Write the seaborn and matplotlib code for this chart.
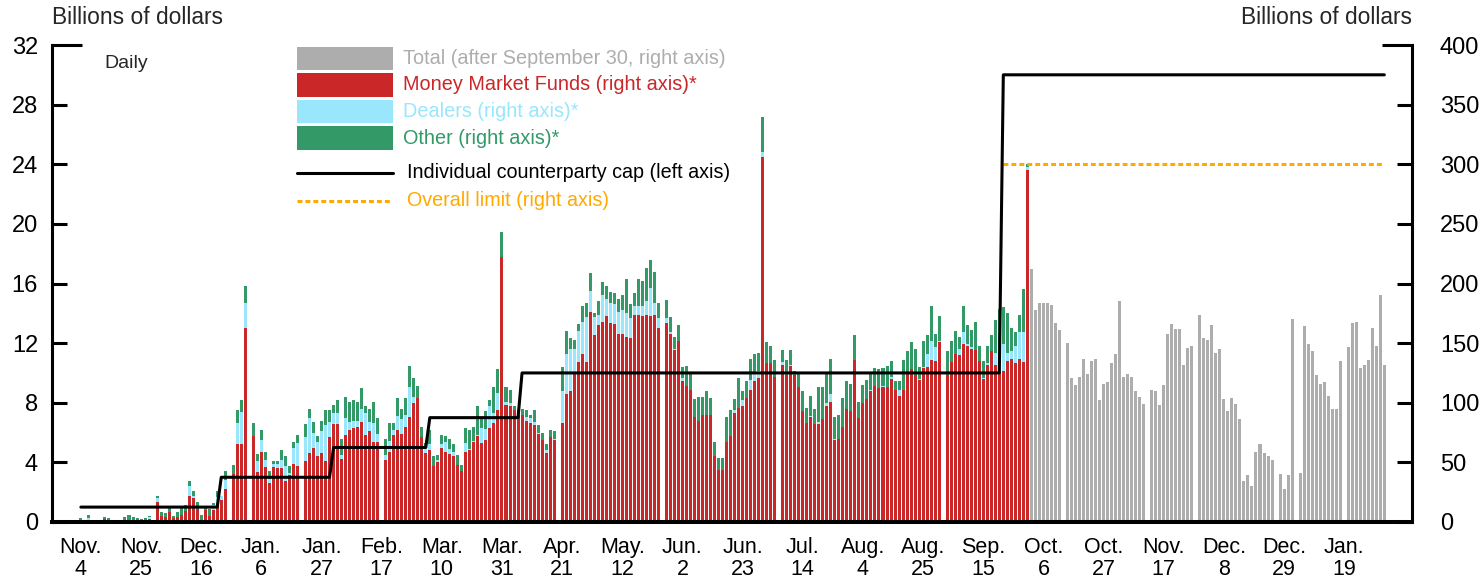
import numpy as np
import pandas as pd
import matplotlib
matplotlib.use("Agg")
import matplotlib.pyplot as plt
import seaborn as sns
from matplotlib.patches import Rectangle
from matplotlib.lines import Line2D

# weekday axis, Nov 4 2013 - Feb 2 2015 (holidays = None, shown as gaps)
days = pd.bdate_range("2013-11-04", "2015-02-02")

# billions of dollars, Nov 2013 - Sep 30 2014, one line per month
mmf = (
    [1.5, 1, 0, 0, 0, None, 2.5, 2, 0.5, 0, 0, 1, 2, 1, 1, 0.5, 0, 2.5, None, 17]
    + [5, 4.5, 8, 3, 4.5, 6, 9, 22, 20, 11, 2, 10, 5, 10, 16, 18.5, 28, None, 40, 65, 65, 163]
    + [None, 72, 42, 59, 46, 33, 46, 45, 45, 34, 39, 49, 47, None, 51, 58, 62, 55, 58, 51, 71, 82, 82]
    + [53, 73, 77, 79, 80, 84, 73, 76, 67, 67, None, 52, 59, 73, 77, 74, 80, 88, 100, 104]
    + [71, 58, 60, 47, 50, 62, 59, 57, 55, 48, 43, 59, 60, 67, 72, 66, 69, 79, 83, 94, 222]
    + [98, 97, 94, 90, 90, 85, 83, 81, 74, 69, 58, 71, 69, None, 83, 107, 110, 125, 134, 141, 134, 176]
    + [157, 165, 168, 173, 167, 166, 158, 158, 155, 154, 174, 174, 173, 174, 173, 174, 163, None, 167, 158, 144, 152]
    + [118, 114, 111, 88, 85, 90, 90, 90, 55, 44, 44, 67, 72, 91, 96, 97, 104, 111, 118, 121, 306]
    + [133, 133, 122, None, 132, 123, 131, 123, 113, 93, 83, 88, 82, 82, 86, 97, 101, 69, 70, 80, 95, 93, 136]
    + [87, 100, 103, 110, 114, 112, 113, 113, 120, 111, 106, 111, 127, 128, 123, 119, 129, 130, 136, 135, 151]
    + [None, 123, 134, 141, 140, 149, 148, 145, 144, 135, 120, 132, 143, 132, 126, 127, 135, 137, 133, 137, 134, 295]
)
dealers = (
    [0, 1, 3, 1.5, 1.5, None, 0, 0, 0.5, 0, 0, 0, 0, 0, 0, 0, 1, 1.5, None, 3]
    + [0, 0, 0, 0, 0, 0, 0, 8, 2, 0, 0, 0, 0, 4, 5, 3.5, 7.5, None, 0, 18, 27, 21]
    + [None, 0, 9, 10, 6, 3, 3, 4, 7, 13, 2, 13, 19, None, 20, 29, 13, 12, 18, 30, 13, 9, 9]
    + [3, 14, 7, 6, 5, 11, 18, 8, 16, 7, None, 4, 9, 4, 12, 12, 10, 25, 5, 0]
    + [0, 4, 5, 0, 2, 3, 8, 4, 4, 0, 0, 7, 1, 1, 1, 13, 9, 18, 8, 14, 0]
    + [3, 3, 0, 2, 0, 3, 4, 3, 1, 0, 2, 0, 1, None, 27, 34, 35, 20, 26, 27, 38, 18]
    + [15, 9, 22, 14, 17, 17, 18, 20, 20, 17, 7, 7, 8, 11, 23, 10, 8, None, 4, 1, 1, 0]
    + [3, 0, 0, 0, 0, 0, 0, 0, 0, 0, 0, 0, 0, 3, 0, 5, 0, 8, 8, 6, 4]
    + [0, 0, 0, None, 2, 0, 1, 0, 0, 0, 0, 1, 0, 2, 0, 3, 6, 1, 0, 0, 0, 0, 0]
    + [0, 0, 0, 1, 0, 0, 1, 0, 2, 0, 5, 0, 0, 0, 0, 1, 1, 11, 16, 12, 1]
    + [None, 0, 0, 0, 5, 10, 1, 2, 0, 0, 1, 1, 0, 10, 22, 22, 7, 6, 15, 22, 25, 3]
)
other = (
    [1.5, 0, 3, 0, 0, None, 1.5, 1, 0.5, 1, 2, 3, 4, 3.5, 2, 2, 2, 1, None, 2]
    + [3, 3, 3.5, 2, 3.5, 5.5, 5, 4, 4, 6, 4, 3, 6, 2, 5, 0, 7, None, 8, 11, 10, 14]
    + [None, 11, 6, 8, 7, 7, 2, 2, 8, 8, 6, 5, 7, None, 11, 8, 9, 5, 9, 13, 10, 7, 11]
    + [14, 18, 17, 17, 16, 17, 6, 11, 18, 13, None, 14, 15, 6, 15, 9, 14, 18, 16, 10]
    + [9, 4, 12, 8, 4, 8, 5, 9, 6, 8, 5, 13, 16, 12, 24, 7, 15, 5, 22, 20, 21]
    + [12, 11, 3, 2, 5, 6, 3, 10, 6, 6, 5, 6, 6, None, 20, 19, 9, 8, 6, 13, 12, 15]
    + [3, 11, 11, 11, 9, 9, 11, 12, 29, 12, 11, 23, 21, 28, 24, 26, 13, None, 15, 13, 10, 13]
    + [9, 17, 15, 15, 20, 15, 20, 14, 12, 10, 10, 21, 22, 9, 25, 8, 14, 18, 15, 15, 30]
    + [18, 15, 14, None, 10, 13, 12, 4, 11, 17, 13, 17, 13, 29, 27, 26, 30, 18, 20, 24, 23, 23, 21]
    + [14, 15, 16, 13, 15, 16, 15, 18, 13, 7, 7, 25, 16, 23, 22, 10, 22, 16, 29, 11, 21]
    + [None, 20, 18, 19, 10, 22, 16, 14, 24, 13, 14, 15, 14, 27, 31, 31, 33, 20, 11, 15, 36, 2]
)
# total only, Oct 1 2014 - Feb 2 2015
total_after = (
    [212, 178, 184, 184, 184, 182, 167, 161, None, 150, 121, 115, 122, 137, 124, 135, 137, 102, 116, 117, 133, 141, 185]
    + [122, 124, 122, 110, 105, 99, None, 111, 110, 98, 115, 158, 166, 162, 162, 132, 146, 148, None, 174]
    + [154, 153, 165, 142, 145, 103, 93, 104, 99, 86, 34, 39, 30, 59, 65, 58, 55, 52, None, 40, 28, 39, 170]
    + [None, 41, 164, 149, 143, 123, 116, 117, 106, 95, 95, 135, None, 147, 167, 168, 129, 132, 136, 163, 148, 190]
    + [132]
)

cap_start = ["2013-11-04", "2013-12-23", "2014-01-30", "2014-03-05", "2014-04-07", "2014-09-22"]
cap_level = [1, 3, 5, 7, 10, 30]
limit_start = "2014-09-22"
limit_level = 300

tick_dates = ["2013-11-04", "2013-11-25", "2013-12-16", "2014-01-06", "2014-01-27", "2014-02-17",
              "2014-03-10", "2014-03-31", "2014-04-21", "2014-05-12", "2014-06-02", "2014-06-23",
              "2014-07-14", "2014-08-04", "2014-08-25", "2014-09-15", "2014-10-06", "2014-10-27",
              "2014-11-17", "2014-12-08", "2014-12-29", "2015-01-19"]
tick_labels = ["Nov.\n4", "Nov.\n25", "Dec.\n16", "Jan.\n6", "Jan.\n27", "Feb.\n17", "Mar.\n10",
               "Mar.\n31", "Apr.\n21", "May.\n12", "Jun.\n2", "Jun.\n23", "Jul.\n14", "Aug.\n4",
               "Aug.\n25", "Sep.\n15", "Oct.\n6", "Oct.\n27", "Nov.\n17", "Dec.\n8", "Dec.\n29",
               "Jan.\n19"]

GRAY = "#ADADAD"
RED = "#C92728"
BLUE = "#99E6FD"
GREEN = "#339966"
ORANGE = "#FFAA00"

# ---- assemble frame ----
n_split = len(mmf)
df = pd.DataFrame({"date": days, "pos": np.arange(len(days))})
df["mmf"] = np.array(mmf + [None] * len(total_after), dtype=float)
df["dealers"] = np.array(dealers + [None] * len(total_after), dtype=float)
df["other"] = np.array(other + [None] * len(total_after), dtype=float)
df["total"] = np.array([None] * n_split + total_after, dtype=float)

cap = pd.Series(np.nan, index=days)
cap[pd.to_datetime(cap_start)] = cap_level
df["cap"] = cap.ffill().values
df["limit"] = np.where(df["date"] >= pd.Timestamp(limit_start), limit_level, np.nan)

sns.set_theme(style="white")
plt.rcParams["font.family"] = ["Liberation Sans", "DejaVu Sans"]

W, H = 1483, 582
fig = plt.figure(figsize=(W / 100, H / 100), dpi=100)
ax = fig.add_axes([52 / W, 1 - 522 / H, (1412 - 52) / W, (522 - 45) / H])
ax2 = ax.twinx()
ax.set_zorder(ax2.get_zorder() + 1)
ax.patch.set_visible(False)
ax2.patch.set_visible(True)
ax2.patch.set_facecolor("white")

# bars on the right axis
bw = 0.75
stk = df.dropna(subset=["mmf"])
ax2.bar(stk["pos"], stk["mmf"], width=bw, color=RED, linewidth=0)
ax2.bar(stk["pos"], stk["dealers"], bottom=stk["mmf"], width=bw, color=BLUE, linewidth=0)
ax2.bar(stk["pos"], stk["other"], bottom=stk["mmf"] + stk["dealers"], width=bw, color=GREEN, linewidth=0)
tot = df.dropna(subset=["total"])
ax2.bar(tot["pos"], tot["total"], width=bw, color=GRAY, linewidth=0)

lim = df.dropna(subset=["limit"])
sns.lineplot(data=lim, x="pos", y="limit", ax=ax2, color=ORANGE, linewidth=2.2, legend=False)
ax2.lines[-1].set_linestyle((0, (1.6, 1.0)))

sns.lineplot(data=df, x="pos", y="cap", ax=ax, color="black", linewidth=2.2, legend=False)

ax.set_xlim(-7.2, 331.9)
ax.set_ylim(0, 32)
ax2.set_ylim(0, 400)
ax.set_yticks(range(0, 33, 4))
ax2.set_yticks(range(0, 401, 50))
tick_pos = [int(np.where(days == pd.Timestamp(d))[0][0]) for d in tick_dates]
ax.set_xticks(tick_pos)
ax.set_xticklabels(tick_labels, linespacing=1.05)
ax.set_xlabel("")
ax.set_ylabel("")
ax2.set_ylabel("")

ax.tick_params(axis="x", length=0, pad=11, labelsize=15.5, colors="black")
ax.tick_params(axis="y", left=True, right=False, direction="in", length=10.8, width=2.2,
               pad=10, labelsize=17, colors="black")
ax2.tick_params(axis="y", right=True, left=False, direction="in", length=10.8, width=2.2,
                pad=20, labelsize=17, colors="black")
ax.yaxis.get_major_ticks()[-1].tick1line.set_markersize(21.6)
ax2.yaxis.get_major_ticks()[-1].tick2line.set_markersize(21.6)

for a in (ax, ax2):
    a.spines["top"].set_visible(False)
    a.grid(False)
ax.spines["right"].set_visible(False)
ax.spines["left"].set_linewidth(2.2)
ax.spines["bottom"].set_linewidth(2.9)
ax2.spines["left"].set_visible(False)
ax2.spines["bottom"].set_visible(False)
ax2.spines["right"].set_linewidth(2.2)
for s in ax.spines.values():
    s.set_color("black")
ax2.spines["right"].set_color("black")

# ---- overlay in pixel coordinates for legend and labels ----
lg = fig.add_axes([0, 0, 1, 1], zorder=10)
lg.set_xlim(0, W)
lg.set_ylim(H, 0)
lg.axis("off")

lg.text(52, 18, "Billions of dollars", fontsize=16.4, ha="left", va="center")
lg.text(1412, 18, "Billions of dollars", fontsize=16.4, ha="right", va="center")
lg.text(104, 64, "Daily", fontsize=14, ha="left", va="center")

patches = [(GRAY, "Total (after September 30, right axis)", 47, 23),
           (RED, "Money Market Funds (right axis)*", 73, 24),
           (BLUE, "Dealers (right axis)*", 100, 23),
           (GREEN, "Other (right axis)*", 126, 24)]
for col, lab, top, h in patches:
    lg.add_patch(Rectangle((297, top), 96, h, facecolor=col, edgecolor="none"))
    lg.text(403, top + h / 2, lab, color=col, fontsize=14.3, ha="left", va="center")

lg.add_line(Line2D([297, 393], [173, 173], color="black", linewidth=2.2))
lg.text(407, 173, "Individual counterparty cap (left axis)", color="black", fontsize=14.2,
        ha="left", va="center")
lg.add_line(Line2D([297, 391], [201, 201], color=ORANGE, linewidth=2.2, linestyle=(0, (1.6, 1.0))))
lg.text(407, 201, "Overall limit (right axis)", color=ORANGE, fontsize=14.2, ha="left", va="center")

fig.savefig("out.png", dpi=100)
